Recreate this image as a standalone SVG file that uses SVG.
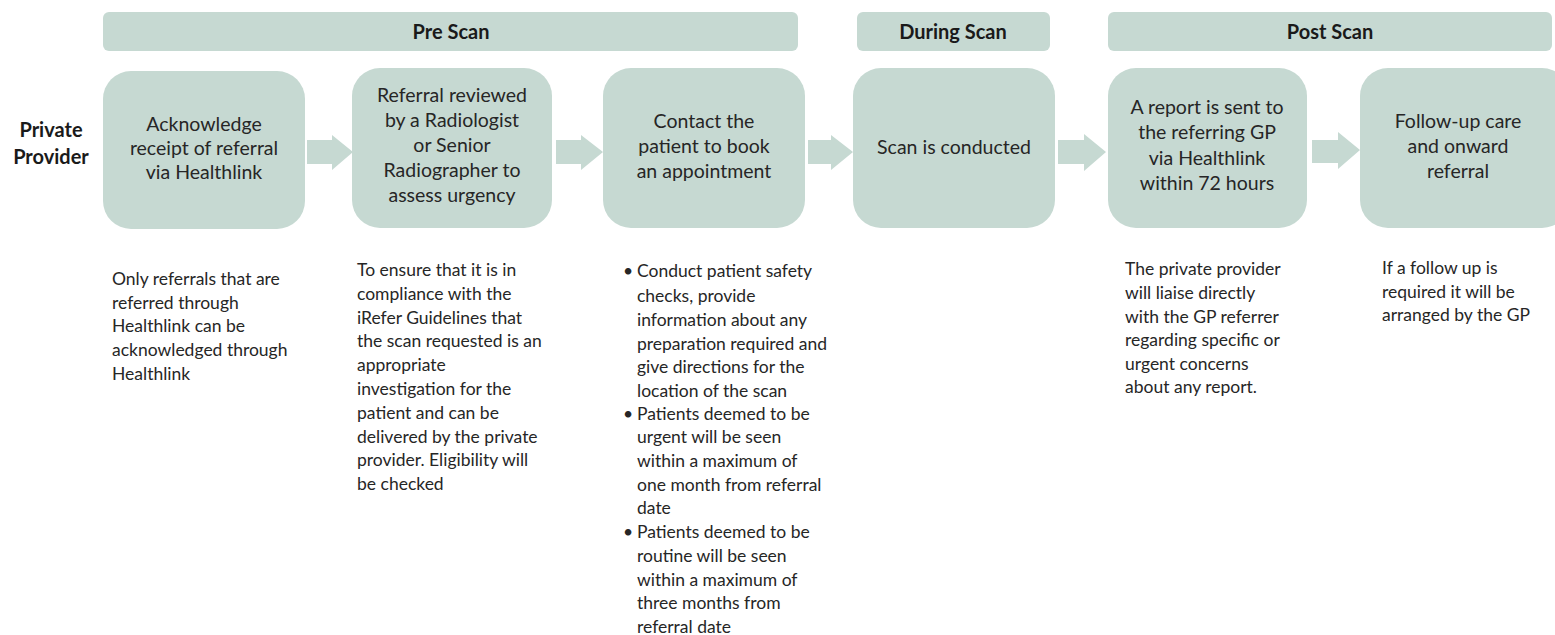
<svg xmlns="http://www.w3.org/2000/svg" width="1555" height="635" viewBox="0 0 1555 635">
<style>
.bar{fill:#C6D9D2}
.node{fill:#C6D9D2}
.arr{fill:#C6D9D2}
.hd{font-family:Lato,"Liberation Sans",sans-serif;font-weight:bold;font-size:20px;fill:#1a1a1a;text-anchor:middle}
.nt{font-family:Lato,"Liberation Sans",sans-serif;font-size:19.5px;fill:#262626;text-anchor:middle}
.lab{font-family:Lato,"Liberation Sans",sans-serif;font-weight:bold;font-size:20px;fill:#1a1a1a;text-anchor:middle}
.ds{font-family:Lato,"Liberation Sans",sans-serif;font-size:17.5px;fill:#262626}
</style>
<rect width="1555" height="635" fill="#ffffff"/>
<g id="header-pre"><rect class="bar" x="103" y="12" width="695" height="39" rx="6"/><text class="hd" x="451" y="39">Pre Scan</text></g>
<g id="header-during"><rect class="bar" x="857" y="12" width="193" height="39" rx="6"/><text class="hd" x="953" y="39">During Scan</text></g>
<g id="header-post"><rect class="bar" x="1108" y="12" width="444" height="39" rx="6"/><text class="hd" x="1330" y="39">Post Scan</text></g>
<g id="label-provider"><text class="lab" x="51" y="137">Private</text><text class="lab" x="51" y="164">Provider</text></g>
<g id="connectors">
<polygon class="arr" points="307,140 332,140 332,135 353,152 332,170 332,164 307,164"/>
<polygon class="arr" points="556,140 581,140 581,135 603,152 581,170 581,164 556,164"/>
<polygon class="arr" points="808,140 831,140 831,135 853,152 831,170 831,164 808,164"/>
<polygon class="arr" points="1058,140 1084,140 1084,134 1106,152 1084,171 1084,164 1058,164"/>
<polygon class="arr" points="1312,140 1338,140 1338,132 1360,150 1338,169 1338,163 1312,163"/>
</g>
<g id="node1"><rect class="node" x="103" y="71" width="202" height="158" rx="28"/>
<text class="nt" x="204" y="131">Acknowledge</text><text class="nt" x="204" y="155">receipt of referral</text><text class="nt" x="204" y="179">via Healthlink</text></g>
<g id="node2"><rect class="node" x="352" y="68" width="200" height="160" rx="28"/>
<text class="nt" x="452" y="102">Referral reviewed</text><text class="nt" x="452" y="127">by a Radiologist</text><text class="nt" x="452" y="152">or Senior</text><text class="nt" x="452" y="177">Radiographer to</text><text class="nt" x="452" y="202">assess urgency</text></g>
<g id="node3"><rect class="node" x="603" y="68" width="202" height="160" rx="28"/>
<text class="nt" x="704" y="128">Contact the</text><text class="nt" x="704" y="153">patient to book</text><text class="nt" x="704" y="178">an appointment</text></g>
<g id="node4"><rect class="node" x="853" y="68" width="202" height="160" rx="28"/>
<text class="nt" x="954" y="154">Scan is conducted</text></g>
<g id="node5"><rect class="node" x="1108" y="68" width="199" height="160" rx="28"/>
<text class="nt" x="1207" y="114">A report is sent to</text><text class="nt" x="1207" y="139">the referring GP</text><text class="nt" x="1207" y="165">via Healthlink</text><text class="nt" x="1207" y="190">within 72 hours</text></g>
<g id="node6"><rect class="node" x="1360" y="68" width="210" height="160" rx="28"/>
<text class="nt" x="1458" y="128">Follow-up care</text><text class="nt" x="1458" y="153">and onward</text><text class="nt" x="1458" y="178">referral</text></g>
<g id="desc1"><text class="ds">
<tspan x="112" y="285">Only referrals that are</tspan><tspan x="112" y="309">referred through</tspan><tspan x="112" y="332">Healthlink can be</tspan><tspan x="112" y="356">acknowledged through</tspan><tspan x="112" y="380">Healthlink</tspan></text></g>
<g id="desc2"><text class="ds">
<tspan x="357" y="276">To ensure that it is in</tspan><tspan x="357" y="300">compliance with the</tspan><tspan x="357" y="324">iRefer Guidelines that</tspan><tspan x="357" y="347">the scan requested is an</tspan><tspan x="357" y="371">appropriate</tspan><tspan x="357" y="395">investigation for the</tspan><tspan x="357" y="419">patient and can be</tspan><tspan x="357" y="443">delivered by the private</tspan><tspan x="357" y="466">provider. Eligibility will</tspan><tspan x="357" y="490">be checked</tspan></text></g>
<g id="desc3"><text class="ds">
<tspan x="623" y="277">•</tspan><tspan x="637" y="277">Conduct patient safety</tspan><tspan x="637" y="302">checks, provide</tspan><tspan x="637" y="326">information about any</tspan><tspan x="637" y="350">preparation required and</tspan><tspan x="637" y="373">give directions for the</tspan><tspan x="637" y="397">location of the scan</tspan>
<tspan x="623" y="420">•</tspan><tspan x="637" y="420">Patients deemed to be</tspan><tspan x="637" y="443">urgent will be seen</tspan><tspan x="637" y="467">within a maximum of</tspan><tspan x="637" y="491">one month from referral</tspan><tspan x="637" y="514">date</tspan>
<tspan x="623" y="538">•</tspan><tspan x="637" y="538">Patients deemed to be</tspan><tspan x="637" y="562">routine will be seen</tspan><tspan x="637" y="586">within a maximum of</tspan><tspan x="637" y="609">three months from</tspan><tspan x="637" y="633">referral date</tspan></text></g>
<g id="desc5"><text class="ds">
<tspan x="1125" y="275">The private provider</tspan><tspan x="1125" y="299">will liaise directly</tspan><tspan x="1125" y="323">with the GP referrer</tspan><tspan x="1125" y="346">regarding specific or</tspan><tspan x="1125" y="370">urgent concerns</tspan><tspan x="1125" y="393">about any report.</tspan></text></g>
<g id="desc6"><text class="ds">
<tspan x="1382" y="274">If a follow up is</tspan><tspan x="1382" y="298">required it will be</tspan><tspan x="1382" y="321">arranged by the GP</tspan></text></g>
</svg>
